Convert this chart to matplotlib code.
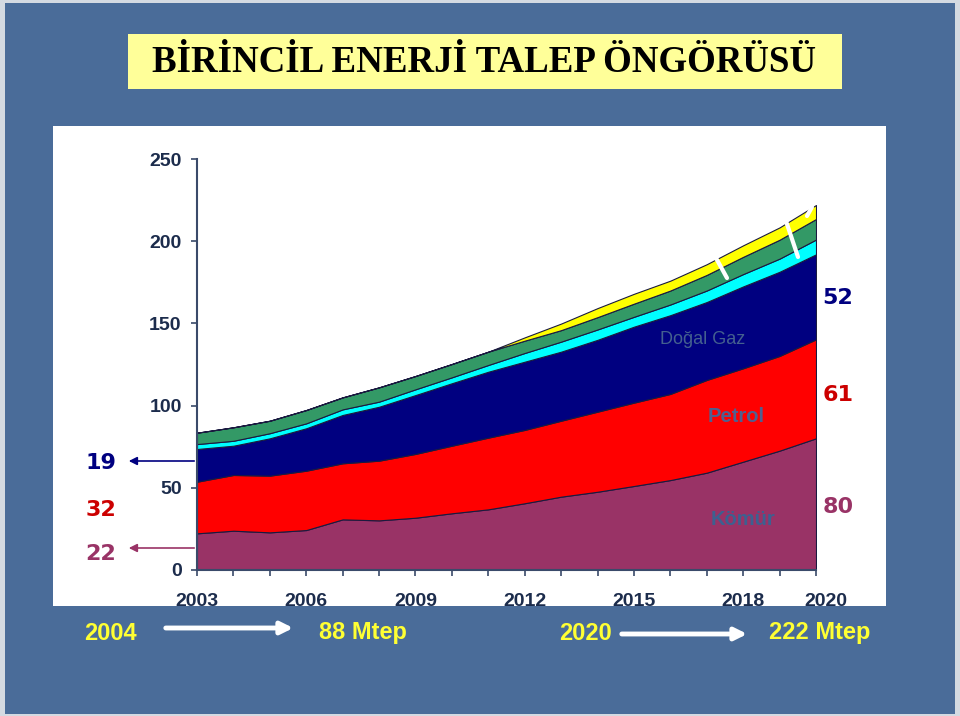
import matplotlib
matplotlib.use("Agg")
import matplotlib.pyplot as plt
from matplotlib.patches import Rectangle
from matplotlib.transforms import ScaledTranslation

# ---------------- data ----------------
years = list(range(2003, 2021))
komur = [22.3, 23.9, 22.9, 24.3, 30.8, 30.2, 31.8, 34.5, 36.9, 40.6, 44.6, 47.6, 51.1, 54.7, 59.2, 65.9, 72.6, 80.1]
petrol = [31.4, 33.9, 34.5, 36.1, 34.1, 36.3, 38.8, 41.1, 43.6, 44.6, 46.2, 48.7, 50.7, 52.4, 56.4, 56.8, 57.6, 60.2]
dogal_gaz = [19.9, 17.8, 22.7, 25.8, 29.4, 32.8, 35.8, 38.0, 40.1, 41.5, 42.0, 43.7, 46.2, 47.9, 47.4, 49.8, 51.2, 51.7]
hidrolik = [3.0, 3.0, 3.1, 3.0, 3.4, 3.1, 3.5, 3.6, 4.1, 5.3, 6.1, 6.3, 6.0, 6.5, 7.0, 7.5, 8.0, 9.0]
diger = [6.9, 8.2, 7.6, 8.1, 7.3, 8.7, 8.1, 8.1, 8.1, 7.5, 7.0, 7.5, 8.0, 8.5, 9.5, 10.5, 11.5, 12.5]
yeni = [0, 0, 0, 0, 0, 0, 0, 0, 0, 2.0, 4.0, 5.5, 6.0, 6.0, 6.5, 7.0, 7.5, 8.5]
layer_colors = ["#993366", "#ff0000", "#000080", "#00ffff", "#339966", "#ffff00"]

y_ticks = [0, 50, 100, 150, 200, 250]
x_label_years = [2003, 2006, 2009, 2012, 2015, 2018, 2020]

title = "BİRİNCİL ENERJİ TALEP ÖNGÖRÜSÜ"
left_vals = ["19", "32", "22"]
right_vals = ["52", "61", "80"]
val_colors = ["#000080", "#cc0000", "#993366"]

W, H = 960, 716
fig = plt.figure(figsize=(W / 100, H / 100), dpi=100)
fig.patch.set_facecolor("#d4dae2")

# ---------- background (pixel coords) ----------
bg = fig.add_axes([0, 0, 1, 1], zorder=0)
bg.set_xlim(0, W)
bg.set_ylim(H, 0)
bg.axis("off")
bg.add_patch(Rectangle((5, 3), 950, 711, facecolor="#4a6c99", edgecolor="none"))
bg.add_patch(Rectangle((53, 126), 833, 480, facecolor="white", edgecolor="none"))
bg.add_patch(Rectangle((128, 34), 714, 55, facecolor="#ffff99", edgecolor="none"))
bg.text(484, 62, title, ha="center", va="center", fontsize=26.6, fontweight="bold",
        family="Liberation Serif", color="black")

# ---------- chart ----------
ax = fig.add_axes([197 / W, (H - 570) / H, (816 - 197) / W, (570 - 159) / H], zorder=2)
ax.set_facecolor("none")
ax.stackplot(years, komur, petrol, dogal_gaz, hidrolik, diger, yeni,
             colors=layer_colors, edgecolor="#1a1a40", linewidth=0.8)
ax.set_xlim(2003, 2020)
ax.set_ylim(0, 250)
for s in ["top", "right"]:
    ax.spines[s].set_visible(False)
for s in ["left", "bottom"]:
    ax.spines[s].set_color("#3a4a6a")
    ax.spines[s].set_linewidth(1.5)

ax.set_yticks(y_ticks)
ax.set_yticklabels([str(v) for v in y_ticks])
ax.tick_params(axis="y", direction="out", length=4.5, width=1.2, color="#3a4a6a",
               pad=6.5, labelsize=14, labelcolor="#1c2c4c")
ax.set_xticks(x_label_years)
ax.set_xticklabels([str(v) for v in x_label_years])
ax.set_xticks(years, minor=True)
ax.tick_params(axis="x", which="both", direction="out", length=4.5, width=1.2,
               color="#3a4a6a", pad=12, labelsize=14, labelcolor="#1c2c4c")
for lab in ax.get_yticklabels() + ax.get_xticklabels():
    lab.set_fontweight("bold")
    lab.set_family("Liberation Sans")
ax.get_xticklabels()[-1].set_transform(
    ax.get_xticklabels()[-1].get_transform() + ScaledTranslation(7 / 72, 0, fig.dpi_scale_trans))

# in-chart labels
ax.text(2016.9, 140, "Doğal Gaz", ha="center", va="center", fontsize=13,
        color="#44608f", family="Liberation Sans")
ax.text(2017.8, 93.5, "Petrol", ha="center", va="center", fontsize=14.5,
        fontweight="bold", color="#50608f", family="Liberation Sans")
ax.text(2018.0, 31, "Kömür", ha="center", va="center", fontsize=14.5,
        fontweight="bold", color="#3d6090", family="Liberation Sans")

# ---------- overlay (pixel coords) ----------
ov = fig.add_axes([0, 0, 1, 1], zorder=3)
ov.set_xlim(0, W)
ov.set_ylim(H, 0)
ov.axis("off")
ov.patch.set_alpha(0)

# white slanted marks
for (x0, y0, x1, y1) in [(716, 258, 727, 278), (786, 221, 798, 257), (807, 216, 812, 207)]:
    ov.plot([x0, x1], [y0, y1], color="white", lw=3, solid_capstyle="round")

# left value labels & arrows
for txt, yy, c in zip(left_vals, [463, 510, 554], val_colors):
    ov.text(101, yy, txt, ha="center", va="center", fontsize=16, fontweight="bold",
            color=c, family="DejaVu Sans")
ov.annotate("", xy=(126, 461), xytext=(197, 461),
            arrowprops=dict(arrowstyle="-|>", color="#000080", lw=1.2, mutation_scale=12))
ov.annotate("", xy=(126, 548), xytext=(197, 548),
            arrowprops=dict(arrowstyle="-|>", color="#993366", lw=1.2, mutation_scale=12))

# right value labels
for txt, yy, c in zip(right_vals, [298, 395, 507], val_colors):
    ov.text(838, yy, txt, ha="center", va="center", fontsize=16, fontweight="bold",
            color=c, family="DejaVu Sans")

# bottom yellow annotations
yel = "#ffff33"
ov.text(110, 633, "2004", ha="center", va="center", fontsize=17, fontweight="bold",
        color=yel, family="Liberation Sans")
ov.annotate("", xy=(296, 628), xytext=(163, 628),
            arrowprops=dict(arrowstyle="-|>", color="white", lw=3.5, mutation_scale=18))
ov.text(363, 633, "88 Mtep", ha="center", va="center", fontsize=17, fontweight="bold",
        color=yel, family="Liberation Sans")
ov.text(585, 633, "2020", ha="center", va="center", fontsize=17, fontweight="bold",
        color=yel, family="Liberation Sans")
ov.annotate("", xy=(750, 634), xytext=(619, 634),
            arrowprops=dict(arrowstyle="-|>", color="white", lw=3.5, mutation_scale=18))
ov.text(820, 633, "222 Mtep", ha="center", va="center", fontsize=17, fontweight="bold",
        color=yel, family="Liberation Sans")

fig.savefig("out.png", dpi=100)
